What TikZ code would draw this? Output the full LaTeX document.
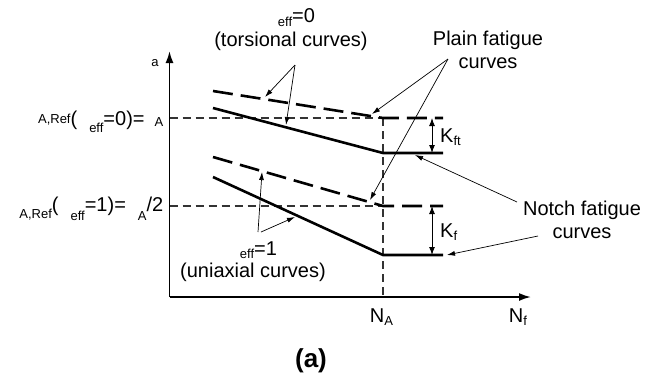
\documentclass[tikz,border=0pt]{standalone}
\usepackage{fontspec}
\setmainfont{Liberation Sans}
\usetikzlibrary{arrows.meta,positioning}

% small lowered text (subscripts whose base letter is missing)
\newcommand{\lowtxt}[2][0pt]{\raisebox{#1}{\fontsize{13}{13}\selectfont #2}}

\begin{document}
\begin{tikzpicture}[x=1pt,y=-1pt,
    font=\fontsize{20}{23}\selectfont,
    curve/.style={line width=2.6pt},
    plaincurve/.style={curve,dash pattern=on 20pt off 8pt},
    guide/.style={line width=1.3pt,black!80,dash pattern=on 8pt off 5pt},
    axis/.style={line width=1.8pt,-{Latex[length=12pt,width=8pt]}},
    note/.style={line width=0.7pt,-{Latex[length=8pt,width=5pt]}},
    dim/.style={line width=1pt,{Latex[length=8pt,width=6pt]}-{Latex[length=8pt,width=6pt]}},
    lbl/.style={inner sep=0pt,anchor=base}]
  \useasboundingbox (0,0) rectangle (657,376);

  % axes
  \coordinate (O) at (169.5,297);
  \coordinate (ytop) at (169.5,51);
  \coordinate (xend) at (531,297);
  \coordinate (NA) at (383,297);

  % curve points
  \coordinate (pt0) at (213,91);
  \coordinate (pt1) at (383,118);
  \coordinate (pt2) at (443,118);
  \coordinate (nt0) at (213,108);
  \coordinate (nt1) at (383,153);
  \coordinate (nt2) at (443,153);
  \coordinate (pb0) at (213,157);
  \coordinate (pb1) at (383,206);
  \coordinate (pb2) at (443,206);
  \coordinate (nb0) at (213,177);
  \coordinate (nb1) at (383,255);
  \coordinate (nb2) at (443,255);

  % guide lines
  \draw[guide] (O |- pt1) -- (pt1);
  \draw[guide] (O |- pb1) -- (pb1);
  \draw[guide] (pt1) -- (NA);

  \draw[axis] (O) -- (ytop);
  \draw[axis] (O) -- (xend);

  % fatigue curves
  \draw[plaincurve] (pt0) -- (pt1) -- (pt2);
  \draw[curve] (nt0) -- (nt1) -- (nt2);
  \draw[plaincurve] (pb0) -- (pb1) -- (pb2);
  \draw[curve] (nb0) -- (nb1) -- (nb2);

  % notch factors
  \coordinate (kfta) at (432,118);
  \coordinate (kftb) at (432,153);
  \coordinate (kfa) at (432,206);
  \coordinate (kfb) at (432,255);
  \draw[dim] (kfta) -- (kftb);
  \draw[dim] (kfa) -- (kfb);
  \node[lbl,anchor=base west] (kft) at (440,142) {K\lowtxt[-3pt]{ft}};
  \node[lbl,anchor=base west] (kf) at (440,237) {K\lowtxt[-3pt]{f}};

  % axis labels
  \node[lbl] (sa) at (155,66) {\lowtxt{a}};
  \node[lbl] (nalbl) at (381.5,322) {N\lowtxt[-3pt]{A}};
  \node[lbl] (nflbl) at (518,322) {N\lowtxt[-3pt]{f}};
  \node[lbl,font=\fontsize{26}{28}\selectfont\bfseries] (caption) at (311,367) {(a)};

  % reference levels
  \node[lbl,anchor=base east] (ref0) at (163.5,125)
    {\hspace{11pt}\lowtxt[2pt]{A,Ref}(\hspace{12pt}\lowtxt[-7pt]{eff}=0)=\hspace{10pt}\lowtxt[-1pt]{A}};
  \node[lbl,anchor=base east] (ref1) at (163.5,211)
    {\hspace{11pt}\lowtxt[-7pt]{A,Ref}(\hspace{12pt}\lowtxt[-9pt]{eff}=1)=\hspace{12pt}\lowtxt[-9pt]{A}/2};

  % torsional curves
  \node[lbl] (torsA) at (291,22) {\hspace{11pt}\lowtxt[-4pt]{eff}=0};
  \node[lbl] (torsB) at (291,46) {(torsional curves)};
  \coordinate (torsFoot) at (295,65);
  \coordinate (torsTipA) at (265,97);
  \coordinate (torsTipB) at (286,125);
  \draw[note] (torsFoot) -- (torsTipA);
  \draw[note] (torsFoot) -- (torsTipB);

  % uniaxial curves
  \node[lbl] (uniA) at (253,255) {\hspace{11pt}\lowtxt[-3pt]{eff}=1};
  \node[lbl] (uniB) at (253,277) {(uniaxial curves)};
  \coordinate (uniFootA) at (258,232);
  \coordinate (uniFootB) at (261,232);
  \coordinate (uniTipA) at (262,172);
  \coordinate (uniTipB) at (295,217);
  \draw[note] (uniFootA) -- (uniTipA);
  \draw[note] (uniFootB) -- (uniTipB);

  % plain fatigue curves
  \node[lbl] (plainA) at (488,45) {Plain fatigue};
  \node[lbl] (plainB) at (488,68) {curves};
  \coordinate (plainFoot) at (448,59);
  \coordinate (plainTipA) at (372,114);
  \coordinate (plainTipB) at (370,200);
  \draw[note] (plainFoot) -- (plainTipA);
  \draw[note] (plainFoot) -- (plainTipB);

  % notch fatigue curves
  \node[lbl] (notchA) at (582,215) {Notch fatigue};
  \node[lbl] (notchB) at (582,238) {curves};
  \coordinate (notchFootA) at (517,202);
  \coordinate (notchFootB) at (538,236);
  \coordinate (notchTipA) at (415,155);
  \coordinate (notchTipB) at (447,255);
  \draw[note] (notchFootA) -- (notchTipA);
  \draw[note] (notchFootB) -- (notchTipB);
\end{tikzpicture}
\end{document}
